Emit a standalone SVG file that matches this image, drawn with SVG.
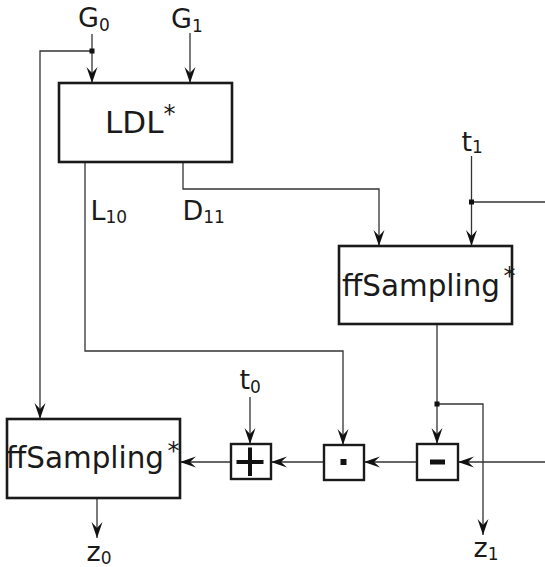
<svg xmlns="http://www.w3.org/2000/svg" width="545" height="567" viewBox="0 0 545 567">
<style>
.box{fill:#fff;stroke:#1a1a1a;stroke-width:2.6}
.op{fill:#fff;stroke:#1a1a1a;stroke-width:2.4}
.c{fill:none;stroke:#333;stroke-width:1.3}
.big{font-family:"DejaVu Sans",sans-serif;font-size:31px;fill:#1a1a1a}
.lab{font-family:"DejaVu Sans",sans-serif;font-size:27px;fill:#1a1a1a}
.sub{font-size:17px}
.sup{font-size:24px}
.j{fill:#111}
</style>
<defs>
<marker id="a" markerUnits="userSpaceOnUse" markerWidth="20" markerHeight="14" viewBox="-18 -7 19 14" refX="0" refY="0" orient="auto">
<path d="M0,0 L-16,-5.5 L-10,0 L-16,5.5 Z" fill="#111"/>
</marker>
</defs>
<g id="connectors">
<path class="c" d="M92,34 V83" marker-end="url(#a)"/>
<path class="c" d="M92,51 H40 V419" marker-end="url(#a)"/>
<path class="c" d="M190,33 V83" marker-end="url(#a)"/>
<path class="c" d="M85,162 V351 H343 V445" marker-end="url(#a)"/>
<path class="c" d="M183,162 V189 H379 V246" marker-end="url(#a)"/>
<path class="c" d="M471.5,156 V246" marker-end="url(#a)"/>
<path class="c" d="M471.5,202 H545"/>
<path class="c" d="M437,324 V444" marker-end="url(#a)"/>
<path class="c" d="M437,404 H483 V535" marker-end="url(#a)"/>
<path class="c" d="M545,462 H458" marker-end="url(#a)"/>
<path class="c" d="M417,462 H364" marker-end="url(#a)"/>
<path class="c" d="M324,462 H271" marker-end="url(#a)"/>
<path class="c" d="M231,462 H180" marker-end="url(#a)"/>
<path class="c" d="M250,397 V444" marker-end="url(#a)"/>
<path class="c" d="M97,498 V538" marker-end="url(#a)"/>
<rect class="j" x="89.5" y="48.5" width="5" height="5"/>
<rect class="j" x="469" y="199.5" width="5" height="5"/>
<rect class="j" x="434.5" y="401.5" width="5" height="5"/>
</g>
<g id="ldl">
<rect class="box" x="59" y="83" width="173" height="79"/>
<text class="big" x="105" y="133">LDL<tspan class="sup" dy="-11" dx="0">*</tspan></text>
</g>
<g id="ffsampling1">
<rect class="box" x="339" y="246" width="173" height="78"/>
<text class="big" x="342" y="296" textLength="158" lengthAdjust="spacingAndGlyphs">ffSampling</text>
<text class="big sup" x="503.5" y="284">*</text>
</g>
<g id="ffsampling0">
<rect class="box" x="7" y="419" width="173" height="79"/>
<text class="big" x="6" y="468" textLength="158" lengthAdjust="spacingAndGlyphs">ffSampling</text>
<text class="big sup" x="167.5" y="459">*</text>
</g>
<g id="plus">
<rect class="op" x="231" y="444" width="40" height="35"/>
<path d="M236.5,462 H263.5 M250,447.5 V476" stroke="#111" stroke-width="4" fill="none"/>
</g>
<g id="dot">
<rect class="op" x="324" y="445" width="40" height="35"/>
<rect x="340.5" y="459" width="6" height="6" fill="#111"/>
</g>
<g id="minus">
<rect class="op" x="417" y="444" width="41" height="36"/>
<rect x="430" y="459.5" width="15" height="5" fill="#111"/>
</g>
<g id="labels">
<text class="lab" x="78" y="27">G<tspan class="sub" dy="4">0</tspan></text>
<text class="lab" x="171" y="28">G<tspan class="sub" dy="4">1</tspan></text>
<text class="lab" x="90.5" y="220">L<tspan class="sub" dy="3">10</tspan></text>
<text class="lab" x="182.5" y="220">D<tspan class="sub" dy="3">11</tspan></text>
<text class="lab" x="461.5" y="151">t<tspan class="sub" dy="2">1</tspan></text>
<text class="lab" x="239.5" y="389">t<tspan class="sub" dy="4">0</tspan></text>
<text class="lab" x="86.5" y="561">z<tspan class="sub" dy="3">0</tspan></text>
<text class="lab" x="473.5" y="557">z<tspan class="sub" dy="3">1</tspan></text>
</g>
</svg>
